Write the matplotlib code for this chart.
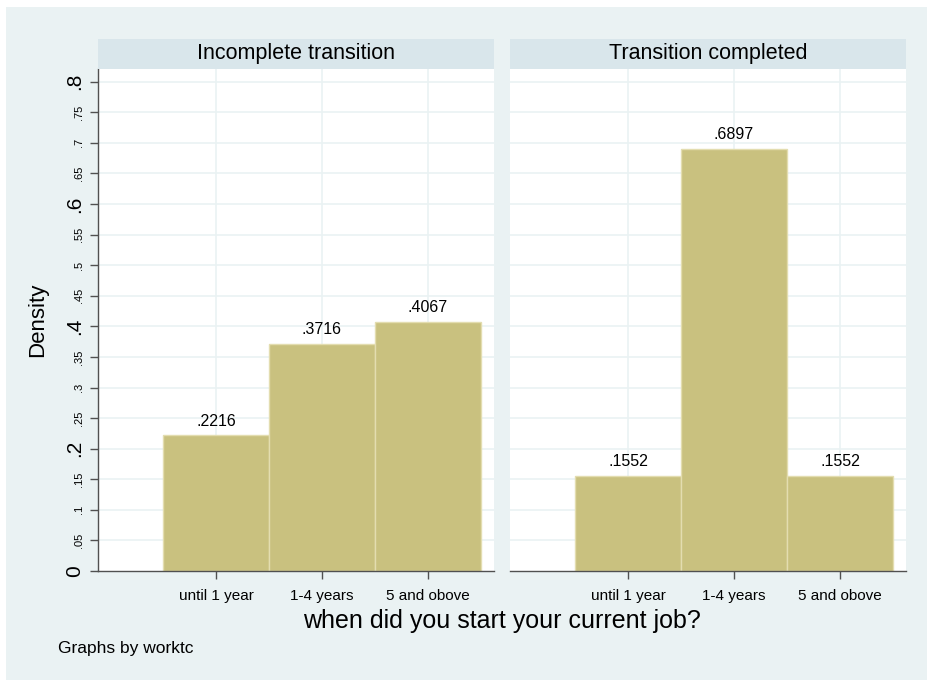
import numpy as np
import matplotlib
matplotlib.use("Agg")
import matplotlib.pyplot as plt
from matplotlib.patches import Rectangle

plt.rcParams['font.family'] = ['Liberation Sans', 'DejaVu Sans']

# dados
categorias = ["until 1 year", "1-4 years", "5 and obove"]
posicoes = [1, 2, 3]
grupos = ["Incomplete transition", "Transition completed"]
densidade_incompleta = [0.2216, 0.3716, 0.4067]
densidade_completa = [0.1552, 0.6897, 0.1552]
valores = [densidade_incompleta, densidade_completa]

ticks_maiores = [0, 0.2, 0.4, 0.6, 0.8]
rotulos_maiores = ["0", ".2", ".4", ".6", ".8"]
ticks_menores = [0.05, 0.1, 0.15, 0.25, 0.3, 0.35, 0.45, 0.5, 0.55, 0.65, 0.7, 0.75]
rotulos_menores = [".05", ".1", ".15", ".25", ".3", ".35", ".45", ".5", ".55", ".65", ".7", ".75"]

# cores
fundo = "#EAF2F3"
faixa = "#D9E6EB"
cor_barra = "#C9C17F"
cor_borda = "#E3DDB0"
cor_eixo = "#505050"

W, H = 928, 680
fig = plt.figure(figsize=(W / 100, H / 100), dpi=100)
fig.patch.set_facecolor("white")
fig.add_artist(Rectangle((6 / W, 0), 1 - 6 / W, 1 - 7 / H, transform=fig.transFigure,
                         facecolor=fundo, edgecolor="none", zorder=0))

ax_left = [98, 510]
ax_w = 396
y_top, y_bot = 69, 571
strip_top = 39

for i, grupo in enumerate(grupos):
    x0 = ax_left[i]
    ax = fig.add_axes([x0 / W, 1 - y_bot / H, ax_w / W, (y_bot - y_top) / H])
    ax.set_facecolor("white")
    ax.set_xlim(-0.113, 3.623)
    ax.set_ylim(0, 0.8208)

    # grade
    for yv in ticks_maiores[1:] + ticks_menores:
        ax.axhline(yv, color=fundo, lw=1.2, zorder=1)
    for xv in posicoes:
        ax.axvline(xv, color=fundo, lw=1.2, zorder=1)

    ax.bar(posicoes, valores[i], width=1.0, color=cor_barra, edgecolor=cor_borda,
           linewidth=1.0, zorder=2)
    for xv, v in zip(posicoes, valores[i]):
        ax.annotate(f"{v:.4f}".lstrip("0"), (xv, v), xytext=(0, 5),
                    textcoords="offset points", ha="center", va="bottom", fontsize=11.5)

    for s in ["top", "right"]:
        ax.spines[s].set_visible(False)
    ax.spines["bottom"].set_color(cor_eixo)
    ax.spines["bottom"].set_linewidth(1.0)

    ax.set_xticks(posicoes)
    ax.set_xticklabels(categorias, fontsize=11)
    ax.tick_params(axis="x", length=6, width=1, color=cor_eixo, pad=7)

    if i == 0:
        ax.spines["left"].set_color(cor_eixo)
        ax.spines["left"].set_linewidth(1.0)
        ax.set_yticks(ticks_maiores)
        ax.set_yticklabels(rotulos_maiores, fontsize=15, rotation=90, va="center")
        ax.set_yticks(ticks_menores, minor=True)
        ax.set_yticklabels(rotulos_menores, minor=True, fontsize=8, rotation=90, va="center")
        ax.tick_params(axis="y", which="both", length=6, width=1, color=cor_eixo, pad=4)
    else:
        ax.spines["left"].set_visible(False)
        ax.set_yticks([])

    # faixa do título do painel
    st = fig.add_axes([x0 / W, 1 - y_top / H, ax_w / W, (y_top - strip_top) / H])
    st.set_facecolor(faixa)
    st.set_xticks([])
    st.set_yticks([])
    for s in st.spines.values():
        s.set_visible(False)
    st.text(0.5, 0.5, grupo, ha="center", va="center", fontsize=15.5, transform=st.transAxes)

fig.text(38 / W, 1 - 320 / H, "Density", rotation=90, ha="center", va="center", fontsize=16)
fig.text(502 / W, 1 - 621 / H, "when did you start your current job?", ha="center",
         va="center", fontsize=18)
fig.text(58 / W, 1 - 648 / H, "Graphs by worktc", ha="left", va="center", fontsize=12.5)

fig.savefig("out.png", dpi=100, facecolor=fig.get_facecolor())
